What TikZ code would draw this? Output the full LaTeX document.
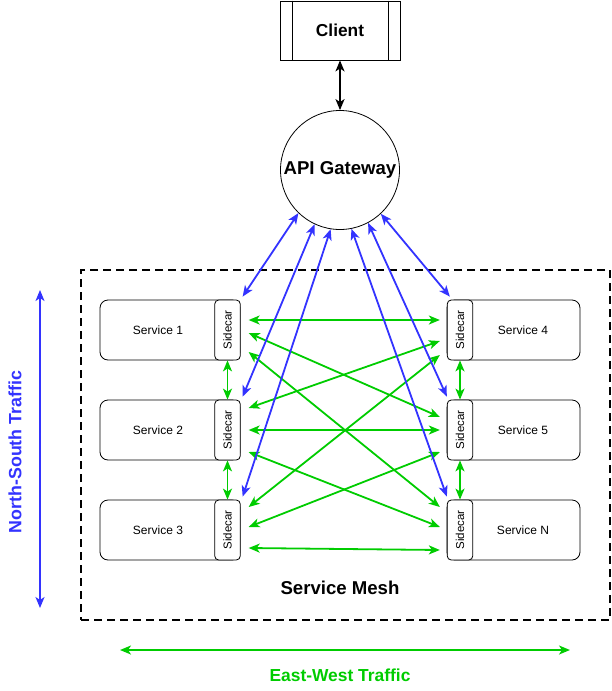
\documentclass[tikz,border=0pt]{standalone}
\usepackage{fontspec}
\setmainfont{Liberation Sans}
\usepackage{graphicx}
\usetikzlibrary{arrows.meta,calc}
\definecolor{nsblue}{HTML}{3333FF}
\definecolor{ewgreen}{HTML}{00CC00}
\begin{document}
\begin{tikzpicture}[x=1pt,y=-1pt,
  tip/.style={Stealth[length=11pt,width=9pt,inset=3pt]},
  blu/.style={draw=nsblue, line width=1.8pt, {Stealth[length=11pt,width=9pt,inset=3pt]}-{Stealth[length=11pt,width=9pt,inset=3pt]}},
  grn/.style={draw=ewgreen, line width=1.8pt, {Stealth[length=11pt,width=9pt,inset=3pt]}-{Stealth[length=11pt,width=9pt,inset=3pt]}},
  blk/.style={draw=black, line width=1.8pt, {Stealth[length=11pt,width=9pt,inset=3pt]}-{Stealth[length=11pt,width=9pt,inset=3pt]}},
  svcL/.style={draw, rounded corners=8pt, minimum width=140pt, minimum height=60pt, line width=0.8pt, inner sep=0pt},
  svcR/.style={draw, rounded corners=8pt, minimum width=133pt, minimum height=60pt, line width=0.8pt, inner sep=0pt},
  side/.style={draw, fill=white, rounded corners=4pt, minimum width=25.5pt, minimum height=60pt, inner sep=0pt, line width=0.8pt, font=\fontsize{11.5}{13}\selectfont},
  svctxt/.style={font=\fontsize{12}{14}\selectfont, inner sep=0pt},
  bigtxt/.style={font=\bfseries\fontsize{18.6}{21}\selectfont, inner sep=0pt}
]
\useasboundingbox (0,0) rectangle (612,691);

% service mesh boundary
\node[draw, dashed, dash pattern=on 8pt off 5pt, line width=1.6pt, minimum width=529pt, minimum height=350pt, inner sep=0pt] (mesh) at (345.5,445) {};
\node[bigtxt] (meshlbl) at (340,588) {Service Mesh};

% client
\node[draw, line width=0.8pt, minimum width=120pt, minimum height=59pt, inner sep=0pt, font=\bfseries\fontsize{17.3}{20}\selectfont] (client) at (340,30.5) {Client};
\draw[line width=0.8pt] ([xshift=13pt]client.north west) -- ([xshift=13pt]client.south west);
\draw[line width=0.8pt] ([xshift=-12pt]client.north east) -- ([xshift=-12pt]client.south east);

% gateway
\node[draw, circle, line width=0.8pt, minimum size=119pt, inner sep=0pt, font=\bfseries\fontsize{18.6}{21}\selectfont] (gw) at (340,170) {API Gateway};
\draw[blk] (client.south) -- (gw.north);

% left services
\node[svcL] (s1) at (170,330) {};
\node[svcL] (s2) at (170,430) {};
\node[svcL] (s3) at (170,530) {};
\node[svctxt] (t1) at (158,330) {Service 1};
\node[svctxt] (t2) at (158,430) {Service 2};
\node[svctxt] (t3) at (158,530) {Service 3};
\node[side] (sc1) at (227.5,330) {\rotatebox{90}{Sidecar}};
\node[side] (sc2) at (227.5,430) {\rotatebox{90}{Sidecar}};
\node[side] (sc3) at (227.5,530) {\rotatebox{90}{Sidecar}};

% right services
\node[svcR] (s4) at (513.5,330) {};
\node[svcR] (s5) at (513.5,430) {};
\node[svcR] (sN) at (513.5,530) {};
\node[svctxt] (t4) at (523,330) {Service 4};
\node[svctxt] (t5) at (523,430) {Service 5};
\node[svctxt] (tN) at (523,530) {Service N};
\node[side] (sc4) at (460,330) {\rotatebox{90}{Sidecar}};
\node[side] (sc5) at (460,430) {\rotatebox{90}{Sidecar}};
\node[side] (scN) at (460,530) {\rotatebox{90}{Sidecar}};

% vertical sidecar links
\draw[grn] (sc1.south) -- (sc2.north);
\draw[grn] (sc2.south) -- (sc3.north);
\draw[grn] (sc4.south) -- (sc5.north);
\draw[grn] (sc5.south) -- (scN.north);

% east-west links
\foreach \a/\ya/\b/\yb in {sc1/10pt/sc4/10pt, sc1/-3pt/sc5/13pt, sc1/-22pt/scN/23pt,
                           sc2/22pt/sc4/-11pt, sc2/0pt/sc5/0pt, sc2/-22pt/scN/3pt,
                           sc3/23pt/sc4/-25pt, sc3/3pt/sc5/-22pt, sc3/-18pt/scN/-20pt}
  \draw[grn] ([xshift=8pt,yshift=\ya]\a.east) -- ([xshift=-7pt,yshift=\yb]\b.west);

% north-south links
\draw[blu] (gw.226) -- ([xshift=2pt,yshift=3pt]sc1.north east);
\draw[blu] (gw.245) -- ([xshift=2pt,yshift=3pt]sc2.north east);
\draw[blu] (gw.261) -- ([xshift=2pt,yshift=3pt]sc3.north east);
\draw[blu] (gw.281) -- ([xshift=0pt,yshift=3pt]scN.north west);
\draw[blu] (gw.298) -- ([xshift=0pt,yshift=3pt]sc5.north west);
\draw[blu] (gw.313) -- ([xshift=3pt,yshift=3pt]sc4.north west);

% traffic legends
\coordinate (nsT) at (40,290);
\coordinate (nsB) at (40,608);
\draw[blu] (nsT) -- (nsB);
\node[rotate=90, text=nsblue, font=\bfseries\fontsize{17.8}{20}\selectfont, inner sep=0pt] (nslbl) at (15,452) {North-South Traffic};

\coordinate (ewL) at (120,650);
\coordinate (ewR) at (570,650);
\draw[grn] (ewL) -- (ewR);
\node[text=ewgreen, font=\bfseries\fontsize{17.4}{20}\selectfont, inner sep=0pt] (ewlbl) at (340,675) {East-West Traffic};
\end{tikzpicture}
\end{document}
